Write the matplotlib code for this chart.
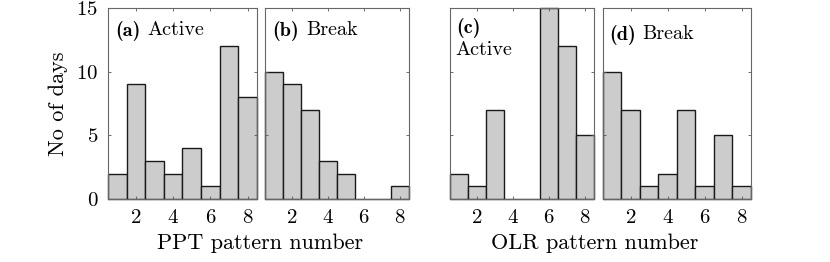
import matplotlib
matplotlib.use('Agg')
import matplotlib.pyplot as plt

plt.rcParams['font.family'] = 'serif'
plt.rcParams['font.serif'] = ['cmr10']
plt.rcParams['mathtext.fontset'] = 'cm'
plt.rcParams['axes.formatter.use_mathtext'] = True

# 패턴 번호 / 일수
patterns = [1, 2, 3, 4, 5, 6, 7, 8]
ppt_active = [2, 9, 3, 2, 4, 1, 12, 8]
ppt_break = [10, 9, 7, 3, 2, 0, 0, 1]
olr_active = [2, 1, 7, 0, 0, 15, 12, 5]
olr_break = [10, 7, 1, 2, 7, 1, 5, 1]

panel_tags = ['(a)', '(b)', '(c)', '(d)']
panel_names = ['Active', 'Break', 'Active', 'Break']
series = [ppt_active, ppt_break, olr_active, olr_break]

fig = plt.figure(figsize=(8.3, 2.62), dpi=100)
rects = [[0.130, 0.2405, 0.1795, 0.729],
         [0.3193, 0.2405, 0.1735, 0.729],
         [0.5422, 0.2405, 0.1735, 0.729],
         [0.7265, 0.2405, 0.1783, 0.729]]
tag_pos = [(0.05, 0.93), (0.05, 0.93), (0.04, 0.95), (0.04, 0.91)]

axes = []
for i, r in enumerate(rects):
    ax = fig.add_axes(r)
    bars = ax.bar(patterns, series[i], width=1.0, color='#cccccc',
                  edgecolor='#1a1a1a', linewidth=1.0)
    for b in bars:
        b.set_clip_on(False)
    ax.set_xlim(0.5, 8.5)
    ax.set_ylim(0, 15)
    ax.set_xticks([2, 4, 6, 8])
    ax.set_yticks([0, 5, 10, 15])
    ax.tick_params(direction='in', length=2.5, width=0.6, color='#555555',
                   top=True, right=True, labelsize=15, pad=7)
    for s in ax.spines.values():
        s.set_color('#666666')
        s.set_linewidth(0.8)
    if i > 0:
        ax.set_yticklabels([])
    x0, y0 = tag_pos[i]
    t = ax.text(x0, y0, panel_tags[i], transform=ax.transAxes, fontsize=14.5,
                va='top', family='cmb10')
    if i == 2:
        # (c)는 두 줄로
        ax.text(x0, y0 - 0.125, panel_names[i], transform=ax.transAxes,
                fontsize=14.5, va='top')
    else:
        ax.annotate(panel_names[i], xy=(1, 1), xycoords=t,
                    xytext=(5, 0), textcoords='offset points',
                    ha='left', va='top', fontsize=14.5)
    axes.append(ax)

axes[0].set_ylabel('No of days', fontsize=16, labelpad=6)

fig.text(0.3135, 0.05, 'PPT pattern number', fontsize=16, ha='center')
fig.text(0.7165, 0.05, 'OLR pattern number', fontsize=16, ha='center')

fig.savefig('out.png', dpi=100)
